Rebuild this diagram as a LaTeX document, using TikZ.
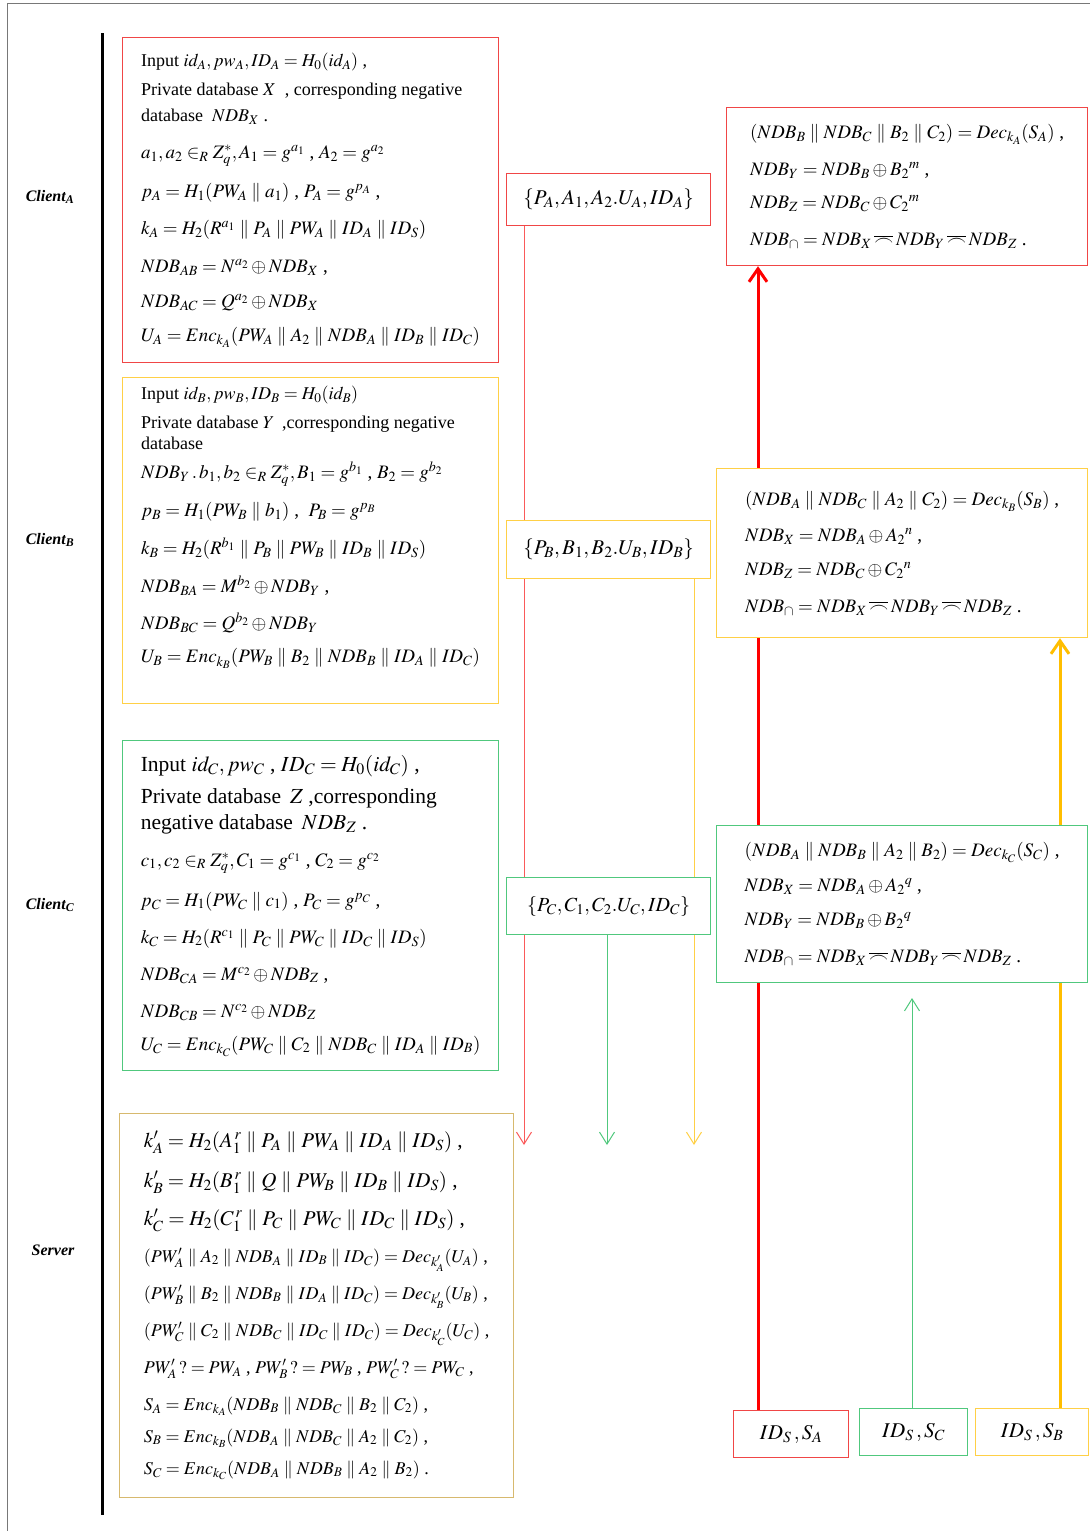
\documentclass[tikz,border=0pt]{standalone}
\usepackage{mathptmx}
\usepackage{fontspec}
\setmainfont{Liberation Serif}
\usetikzlibrary{arrows.meta,backgrounds}

\definecolor{boxred}{RGB}{240,70,70}
\definecolor{linered}{RGB}{255,0,0}
\definecolor{thinred}{RGB}{250,90,90}
\definecolor{boxyellow}{RGB}{255,208,70}
\definecolor{lineyellow}{RGB}{255,190,0}
\definecolor{boxgreen}{RGB}{80,200,125}
\definecolor{boxtan}{RGB}{215,185,110}
\definecolor{framegray}{RGB}{120,120,120}

\newcommand{\dpar}{\parallel}
\newcommand{\ncap}{\mathbin{\overline{\frown}}}
\newcommand{\setfs}[1]{\fontsize{#1}{24}\selectfont\lineskiplimit=-60pt\lineskip=0pt}

\begin{document}
\begin{tikzpicture}[x=1pt, y=-1pt,
  stepbox/.style={draw=#1, fill=white, line width=1.2pt, anchor=north west,
    inner sep=0pt, align=left, font=\setfs{19}},
  role/.style={font=\fontsize{16}{18}\selectfont\bfseries\itshape},
  downline/.style={line width=1pt, -{Straight Barb[length=12pt,width=15pt]}},
  upline/.style={line width=3pt, -{Straight Barb[length=13pt,width=18pt]}}
]
\useasboundingbox (0,0) rectangle (1090,1531);
\draw[framegray, line width=1pt] (7,1531) -- (7,3) -- (1090,3);
\draw[line width=3pt] (102,33) -- (102,1515);

% roles on the left
\node[role] (lA) at (50,197) {Client\textsubscript{A}};
\node[role] (lB) at (50,540) {Client\textsubscript{B}};
\node[role] (lC) at (50,905) {Client\textsubscript{C}};
\node[role] (lS) at (53,1250) {Server};

% client computations
\node[stepbox=boxred, minimum width=376, minimum height=325] (cA) at (122,37) {%
{\setfs{18}Input $id_A, pw_A, ID_A = H_0(id_A)$ ,}\\[5pt]
{\setfs{18}Private database $X$ \ , corresponding negative}\\[2pt]
{\setfs{18}database \ $NDB_X$ .}\\[13pt]
$a_1,a_2 \in_R Z_q^*, A_1 = g^{a_1}$ , $A_2 = g^{a_2}$\\[15pt]
$p_A = H_1(PW_A \dpar a_1)$ , $P_A = g^{p_A}$ ,\\[13pt]
$k_A = H_2(R^{a_1} \dpar P_A \dpar PW_A \dpar ID_A \dpar ID_S)$\\[14pt]
$NDB_{AB} = N^{a_2} \oplus NDB_X$ ,\\[11pt]
$NDB_{AC} = Q^{a_2} \oplus NDB_X$\\[10pt]
$U_A = Enc_{k_A}(PW_A \dpar A_2 \dpar NDB_A \dpar ID_B \dpar ID_C)$};

\node[stepbox=boxyellow, minimum width=376, minimum height=326] (cB) at (122,377) {%
{\setfs{18}Input $id_B, pw_B, ID_B = H_0(id_B)$}\\[5pt]
{\setfs{18}Private database $Y$ \,,corresponding negative}\\[-3pt]
{\setfs{18}database}\\[5pt]
$NDB_Y\,.\,b_1,b_2 \in_R Z_q^*, B_1 = g^{b_1}$ , $B_2 = g^{b_2}$\\[14pt]
$p_B = H_1(PW_B \dpar b_1)$ , \ $P_B = g^{p_B}$\\[14pt]
$k_B = H_2(R^{b_1} \dpar P_B \dpar PW_B \dpar ID_B \dpar ID_S)$\\[14pt]
$NDB_{BA} = M^{b_2} \oplus NDB_Y$ ,\\[13pt]
$NDB_{BC} = Q^{b_2} \oplus NDB_Y$\\[9pt]
$U_B = Enc_{k_B}(PW_B \dpar B_2 \dpar NDB_B \dpar ID_A \dpar ID_C)$\\[8pt]};

\node[stepbox=boxgreen, minimum width=376, minimum height=330] (cC) at (122,740) {%
{\setfs{21.5}Input $id_C, pw_C$ , $ID_C = H_0(id_C)$ ,}\\[8pt]
{\setfs{21.5}Private database \,$Z$ ,corresponding}\\[2pt]
{\setfs{21.5}negative database \,$NDB_Z$ .}\\[13pt]
$c_1,c_2 \in_R Z_q^*, C_1 = g^{c_1}$ , $C_2 = g^{c_2}$\\[16pt]
$p_C = H_1(PW_C \dpar c_1)$ , $P_C = g^{p_C}$ ,\\[13pt]
$k_C = H_2(R^{c_1} \dpar P_C \dpar PW_C \dpar ID_C \dpar ID_S)$\\[13pt]
$NDB_{CA} = M^{c_2} \oplus NDB_Z$ ,\\[13pt]
$NDB_{CB} = N^{c_2} \oplus NDB_Z$\\[9pt]
$U_C = Enc_{k_C}(PW_C \dpar C_2 \dpar NDB_C \dpar ID_A \dpar ID_B)$};

% server computations
\node[stepbox=boxtan, minimum width=394, minimum height=384, font=\setfs{18}] (srv) at (119,1113) {%
{\setfs{21}$k'_A = H_2(A_1^{\,r} \dpar P_A \dpar PW_A \dpar ID_A \dpar ID_S)$ ,}\\[16pt]
{\setfs{21}$k'_B = H_2(B_1^{\,r} \dpar Q \dpar PW_B \dpar ID_B \dpar ID_S)$ ,}\\[14pt]
{\setfs{21}$k'_C = H_2(C_1^{\,r} \dpar P_C \dpar PW_C \dpar ID_C \dpar ID_S)$ ,}\\[13pt]
$(PW'_A \dpar A_2 \dpar NDB_A \dpar ID_B \dpar ID_C) = Dec_{k'_A}(U_A)$ ,\\[13pt]
$(PW'_B \dpar B_2 \dpar NDB_B \dpar ID_A \dpar ID_C) = Dec_{k'_B}(U_B)$ ,\\[13pt]
$(PW'_C \dpar C_2 \dpar NDB_C \dpar ID_C \dpar ID_C) = Dec_{k'_C}(U_C)$ ,\\[13pt]
$PW'_A\,?= PW_A$ , $PW'_B\,?= PW_B$ , $PW'_C\,?= PW_C$ ,\\[13pt]
$S_A = Enc_{k_A}(NDB_B \dpar NDB_C \dpar B_2 \dpar C_2)$ ,\\[8pt]
$S_B = Enc_{k_B}(NDB_A \dpar NDB_C \dpar A_2 \dpar C_2)$ ,\\[8pt]
$S_C = Enc_{k_C}(NDB_A \dpar NDB_B \dpar A_2 \dpar B_2)$ .};

% messages sent to the server
\node[stepbox=boxred, minimum width=204, minimum height=52, font=\setfs{21}] (mA) at (506,173)
  {$\{P_A,A_1,A_2.U_A,ID_A\}$};
\node[stepbox=boxyellow, minimum width=204, minimum height=58, font=\setfs{21}] (mB) at (506,520)
  {$\{P_B,B_1,B_2.U_B,ID_B\}$};
\node[stepbox=boxgreen, minimum width=204, minimum height=57, font=\setfs{20}] (mC) at (506,877)
  {$\{P_C,C_1,C_2.U_C,ID_C\}$};

% decryption on the client side
\node[stepbox=boxred, minimum width=361, minimum height=158] (rA) at (726,107) {%
$(NDB_B \dpar NDB_C \dpar B_2 \dpar C_2) = Dec_{k_A}(S_A)$ ,\\[13pt]
$NDB_Y = NDB_B \oplus B_2{}^m$ ,\\[9pt]
$NDB_Z = NDB_C \oplus C_2{}^m$\\[13pt]
$NDB_\cap = NDB_X \ncap NDB_Y \ncap NDB_Z$ .};
\node[stepbox=boxyellow, minimum width=371, minimum height=169] (rB) at (716,468) {%
$(NDB_A \dpar NDB_C \dpar A_2 \dpar C_2) = Dec_{k_B}(S_B)$ ,\\[12pt]
$NDB_X = NDB_A \oplus A_2{}^n$ ,\\[10pt]
$NDB_Z = NDB_C \oplus C_2{}^n$\\[13pt]
$NDB_\cap = NDB_X \ncap NDB_Y \ncap NDB_Z$ .};
\node[stepbox=boxgreen, minimum width=371, minimum height=157] (rC) at (716,825) {%
$(NDB_A \dpar NDB_B \dpar A_2 \dpar B_2) = Dec_{k_C}(S_C)$ ,\\[11pt]
$NDB_X = NDB_A \oplus A_2{}^q$ ,\\[10pt]
$NDB_Y = NDB_B \oplus B_2{}^q$\\[13pt]
$NDB_\cap = NDB_X \ncap NDB_Y \ncap NDB_Z$ .};

% replies from the server
\node[stepbox=boxred, minimum width=115, minimum height=47, font=\setfs{21}] (sA) at (733,1410) {$ID_S\,, S_A$};
\node[stepbox=boxgreen, minimum width=108, minimum height=47, font=\setfs{21}] (sC) at (859,1408) {$ID_S\,, S_C$};
\node[stepbox=boxyellow, minimum width=113, minimum height=47, font=\setfs{21}] (sB) at (975,1408) {$ID_S\,, S_B$};

\coordinate (dA) at (524,1145);
\coordinate (dB) at (694,1145);
\coordinate (dC) at (607,1145);
\coordinate (uA) at (758,0);
\coordinate (uB) at (1060,0);
\coordinate (uC) at (912,998);

\begin{pgfonlayer}{background}
\draw[downline, thinred] (mA.south -| dA) -- (dA);
\draw[downline, boxyellow] (mB.south -| dB) -- (dB);
\draw[downline, boxgreen] (mC.south -| dC) -- (dC);
\draw[upline, linered] (sA.north -| uA) -- (rA.south -| uA);
\draw[upline, lineyellow] (sB.north -| uB) -- (rB.south -| uB);
\draw[downline, boxgreen] (sC.north -| uC) -- (uC);
\end{pgfonlayer}
\end{tikzpicture}
\end{document}
